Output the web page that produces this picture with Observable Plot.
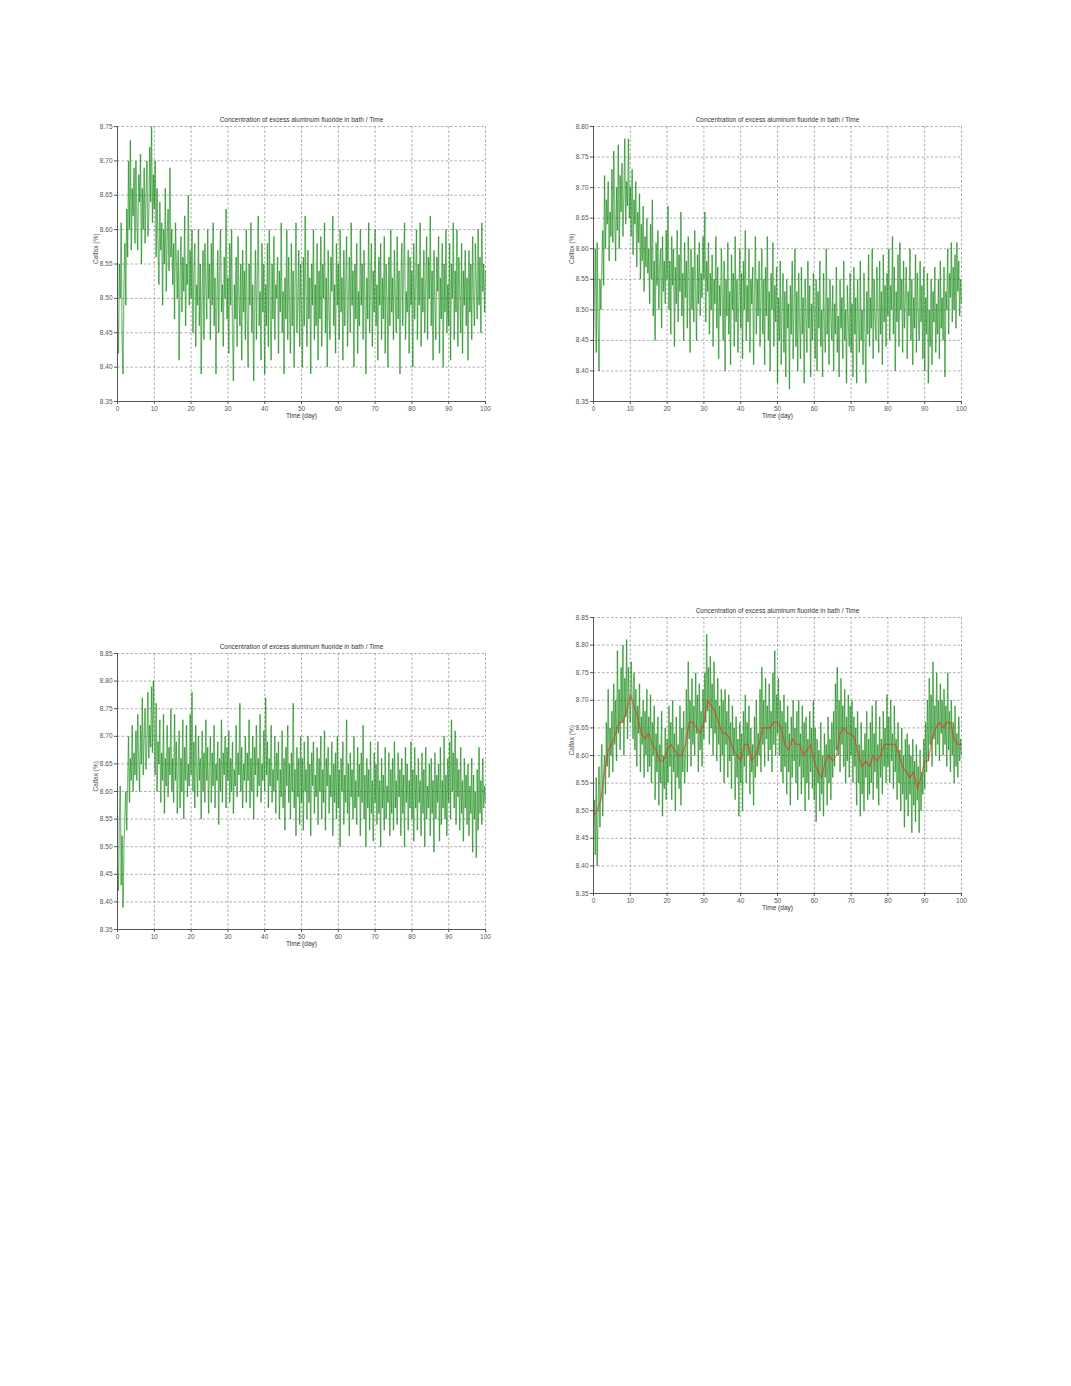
<!DOCTYPE html>
<html>
<head>
<meta charset="utf-8">
<script src="https://cdn.jsdelivr.net/npm/d3@7"></script>
<script src="https://cdn.jsdelivr.net/npm/@observablehq/plot@0.6"></script>
<style>
  html, body { margin: 0; padding: 0; background: #fff; }
  #page { position: relative; width: 1071px; height: 1386px; background: #fff; overflow: hidden; }
  .panel { position: absolute; }
  .panel svg { overflow: visible; }
</style>
</head>
<body>
<div id="page"></div>
<script>
const titleText = "Concentration of excess aluminum fluoride in bath / Time";
const xLabel = "Time (day)";
const yLabel = "Calfax (%)";
const xTicks = [0, 10, 20, 30, 40, 50, 60, 70, 80, 90, 100];

// Samples every 0.25 day, t = 0 .. 100 (each row = 5 days)
const series1 = [
  8.47, 8.42, 8.55, 8.50, 8.61, 8.44, 8.39, 8.52, 8.58, 8.49, 8.63, 8.56, 8.70, 8.60, 8.73, 8.57, 8.66, 8.62, 8.69, 8.58,
  8.70, 8.61, 8.57, 8.68, 8.64, 8.71, 8.55, 8.66, 8.60, 8.69, 8.58, 8.65, 8.70, 8.59, 8.62, 8.72, 8.64, 8.75, 8.61, 8.68,
  8.63, 8.70, 8.56, 8.66, 8.58, 8.52, 8.64, 8.57, 8.61, 8.49, 8.60, 8.55, 8.66, 8.51, 8.59, 8.63, 8.54, 8.69, 8.56, 8.60,
  8.52, 8.58, 8.47, 8.61, 8.55, 8.50, 8.57, 8.41, 8.53, 8.59, 8.48, 8.56, 8.51, 8.62, 8.46, 8.55, 8.52, 8.65, 8.49, 8.57,
  8.50, 8.60, 8.45, 8.54, 8.58, 8.43, 8.52, 8.49, 8.60, 8.46, 8.55, 8.39, 8.51, 8.57, 8.44, 8.58, 8.52, 8.47, 8.60, 8.50,
  8.55, 8.44, 8.58, 8.49, 8.61, 8.46, 8.53, 8.39, 8.50, 8.57, 8.45, 8.54, 8.60, 8.48, 8.52, 8.43, 8.56, 8.50, 8.63, 8.47,
  8.53, 8.42, 8.58, 8.49, 8.60, 8.45, 8.38, 8.52, 8.47, 8.56, 8.43, 8.59, 8.50, 8.46, 8.55, 8.41, 8.57, 8.48, 8.54, 8.44,
  8.60, 8.47, 8.40, 8.55, 8.49, 8.61, 8.45, 8.52, 8.38, 8.50, 8.57, 8.44, 8.53, 8.62, 8.46, 8.51, 8.41, 8.58, 8.48, 8.55,
  8.39, 8.52, 8.46, 8.58, 8.43, 8.60, 8.49, 8.41, 8.55, 8.47, 8.59, 8.44, 8.52, 8.50, 8.56, 8.42, 8.54, 8.48, 8.61, 8.45,
  8.51, 8.39, 8.53, 8.47, 8.60, 8.44, 8.56, 8.49, 8.42, 8.58, 8.46, 8.54, 8.40, 8.52, 8.61, 8.45, 8.50, 8.57, 8.43, 8.55,
  8.48, 8.40, 8.56, 8.46, 8.62, 8.50, 8.43, 8.57, 8.47, 8.53, 8.39, 8.55, 8.49, 8.60, 8.44, 8.52, 8.46, 8.58, 8.41, 8.54,
  8.47, 8.59, 8.43, 8.55, 8.50, 8.61, 8.45, 8.53, 8.40, 8.57, 8.48, 8.44, 8.56, 8.51, 8.62, 8.46, 8.52, 8.42, 8.58, 8.49,
  8.55, 8.44, 8.60, 8.48, 8.53, 8.41, 8.57, 8.46, 8.52, 8.59, 8.43, 8.50, 8.56, 8.45, 8.61, 8.49, 8.54, 8.40, 8.55, 8.47,
  8.58, 8.42, 8.51, 8.46, 8.60, 8.49, 8.55, 8.44, 8.57, 8.50, 8.39, 8.53, 8.47, 8.61, 8.45, 8.52, 8.58, 8.43, 8.54, 8.48,
  8.60, 8.46, 8.52, 8.41, 8.56, 8.49, 8.58, 8.44, 8.53, 8.47, 8.59, 8.42, 8.55, 8.50, 8.40, 8.56, 8.46, 8.60, 8.48, 8.53,
  8.44, 8.57, 8.50, 8.45, 8.59, 8.47, 8.54, 8.39, 8.52, 8.58, 8.46, 8.55, 8.61, 8.44, 8.51, 8.48, 8.57, 8.42, 8.56, 8.49,
  8.54, 8.40, 8.58, 8.47, 8.52, 8.60, 8.44, 8.55, 8.49, 8.61, 8.43, 8.53, 8.48, 8.57, 8.45, 8.52, 8.59, 8.44, 8.56, 8.50,
  8.62, 8.46, 8.54, 8.41, 8.57, 8.49, 8.44, 8.56, 8.51, 8.59, 8.42, 8.53, 8.47, 8.58, 8.40, 8.55, 8.48, 8.60, 8.45, 8.52,
  8.46, 8.58, 8.41, 8.55, 8.50, 8.61, 8.44, 8.54, 8.48, 8.60, 8.43, 8.56, 8.51, 8.45, 8.58, 8.42, 8.54, 8.49, 8.57, 8.46,
  8.53, 8.41, 8.57, 8.48, 8.55, 8.44, 8.59, 8.50, 8.46, 8.58, 8.52, 8.47, 8.60, 8.49, 8.56, 8.45, 8.61, 8.51, 8.55, 8.48,
  8.54
];
const series2 = [
  8.45, 8.52, 8.60, 8.43, 8.61, 8.48, 8.40, 8.55, 8.50, 8.57, 8.63, 8.54, 8.72, 8.60, 8.68, 8.64, 8.71, 8.58, 8.66, 8.62,
  8.73, 8.61, 8.76, 8.65, 8.58, 8.70, 8.63, 8.77, 8.60, 8.72, 8.66, 8.74, 8.62, 8.69, 8.78, 8.64, 8.71, 8.67, 8.78, 8.65,
  8.70, 8.62, 8.73, 8.59, 8.68, 8.64, 8.71, 8.57, 8.66, 8.61, 8.69, 8.55, 8.64, 8.58, 8.67, 8.53, 8.62, 8.57, 8.65, 8.56,
  8.60, 8.51, 8.64, 8.55, 8.68, 8.49, 8.58, 8.45, 8.61, 8.54, 8.63, 8.50, 8.57, 8.60, 8.47, 8.62, 8.53, 8.58, 8.51, 8.63,
  8.55, 8.67, 8.50, 8.58, 8.46, 8.62, 8.54, 8.60, 8.44, 8.57, 8.51, 8.63, 8.48, 8.59, 8.53, 8.66, 8.49, 8.56, 8.45, 8.61,
  8.52, 8.58, 8.47, 8.62, 8.55, 8.43, 8.60, 8.50, 8.57, 8.48, 8.63, 8.53, 8.45, 8.59, 8.51, 8.61, 8.49, 8.56, 8.52, 8.62,
  8.55, 8.66, 8.48, 8.58, 8.53, 8.61, 8.46, 8.56, 8.50, 8.59, 8.44, 8.55, 8.51, 8.62, 8.47, 8.57, 8.42, 8.54, 8.49, 8.60,
  8.52, 8.45, 8.58, 8.40, 8.55, 8.49, 8.61, 8.46, 8.53, 8.41, 8.59, 8.50, 8.56, 8.44, 8.62, 8.48, 8.55, 8.43, 8.52, 8.60,
  8.47, 8.56, 8.42, 8.58, 8.50, 8.63, 8.45, 8.54, 8.48, 8.60, 8.43, 8.55, 8.51, 8.57, 8.41, 8.53, 8.62, 8.46, 8.55, 8.49,
  8.58, 8.44, 8.52, 8.60, 8.46, 8.55, 8.41, 8.57, 8.49, 8.62, 8.45, 8.53, 8.40, 8.56, 8.50, 8.61, 8.44, 8.54, 8.48, 8.57,
  8.38, 8.52, 8.45, 8.58, 8.41, 8.50, 8.56, 8.43, 8.53, 8.39, 8.55, 8.47, 8.51, 8.37, 8.54, 8.46, 8.58, 8.42, 8.50, 8.60,
  8.44, 8.53, 8.40, 8.56, 8.48, 8.42, 8.57, 8.46, 8.52, 8.38, 8.55, 8.49, 8.43, 8.58, 8.47, 8.54, 8.39, 8.51, 8.45, 8.56,
  8.48, 8.42, 8.55, 8.40, 8.53, 8.47, 8.58, 8.44, 8.50, 8.39, 8.56, 8.48, 8.43, 8.60, 8.46, 8.52, 8.41, 8.55, 8.49, 8.45,
  8.54, 8.40, 8.51, 8.46, 8.57, 8.43, 8.49, 8.39, 8.55, 8.47, 8.52, 8.42, 8.58, 8.45, 8.50, 8.38, 8.54, 8.48, 8.44, 8.56,
  8.43, 8.51, 8.39, 8.57, 8.46, 8.52, 8.38, 8.55, 8.48, 8.43, 8.58, 8.45, 8.50, 8.41, 8.56, 8.47, 8.38, 8.53, 8.46, 8.59,
  8.44, 8.52, 8.47, 8.60, 8.42, 8.55, 8.49, 8.45, 8.57, 8.50, 8.43, 8.58, 8.46, 8.53, 8.41, 8.59, 8.48, 8.54, 8.44, 8.56,
  8.49, 8.60, 8.45, 8.54, 8.50, 8.62, 8.46, 8.57, 8.40, 8.53, 8.48, 8.59, 8.44, 8.61, 8.50, 8.55, 8.43, 8.58, 8.47, 8.52,
  8.57, 8.42, 8.53, 8.49, 8.60, 8.45, 8.55, 8.41, 8.52, 8.47, 8.59, 8.43, 8.56, 8.50, 8.45, 8.58, 8.48, 8.54, 8.42, 8.57,
  8.40, 8.52, 8.46, 8.56, 8.38, 8.50, 8.44, 8.55, 8.41, 8.53, 8.48, 8.57, 8.43, 8.51, 8.46, 8.55, 8.42, 8.58, 8.47, 8.52,
  8.45, 8.57, 8.39, 8.53, 8.50, 8.60, 8.46, 8.56, 8.52, 8.61, 8.48, 8.57, 8.50, 8.59, 8.47, 8.61, 8.53, 8.58, 8.49, 8.55,
  8.51
];
const series3 = [
  8.46, 8.42, 8.55, 8.61, 8.43, 8.52, 8.39, 8.50, 8.56, 8.60, 8.53, 8.62, 8.70, 8.58, 8.66, 8.62, 8.72, 8.60, 8.67, 8.63,
  8.71, 8.62, 8.74, 8.66, 8.60, 8.72, 8.65, 8.77, 8.63, 8.70, 8.75, 8.64, 8.69, 8.78, 8.66, 8.72, 8.68, 8.79, 8.67, 8.80,
  8.70, 8.63, 8.76, 8.60, 8.69, 8.65, 8.73, 8.58, 8.67, 8.62, 8.74, 8.56, 8.66, 8.61, 8.72, 8.59, 8.68, 8.63, 8.75, 8.60,
  8.66, 8.58, 8.74, 8.62, 8.69, 8.56, 8.64, 8.71, 8.57, 8.66, 8.60, 8.73, 8.55, 8.68, 8.62, 8.72, 8.59, 8.65, 8.61, 8.74,
  8.63, 8.78, 8.60, 8.69, 8.57, 8.72, 8.64, 8.59, 8.70, 8.62, 8.66, 8.55, 8.71, 8.60, 8.67, 8.58, 8.73, 8.62, 8.68, 8.56,
  8.64, 8.70, 8.58, 8.67, 8.61, 8.72, 8.57, 8.65, 8.62, 8.69, 8.54, 8.66, 8.60, 8.73, 8.58, 8.67, 8.63, 8.70, 8.57, 8.68,
  8.62, 8.71, 8.58, 8.66, 8.60, 8.69, 8.56, 8.64, 8.61, 8.72, 8.59, 8.67, 8.63, 8.76, 8.60, 8.68, 8.57, 8.65, 8.62, 8.70,
  8.58, 8.67, 8.62, 8.73, 8.57, 8.66, 8.60, 8.70, 8.55, 8.68, 8.63, 8.72, 8.59, 8.66, 8.61, 8.74, 8.58, 8.65, 8.62, 8.71,
  8.60, 8.77, 8.63, 8.69, 8.57, 8.66, 8.61, 8.72, 8.58, 8.64, 8.60, 8.70, 8.56, 8.67, 8.62, 8.69, 8.55, 8.64, 8.59, 8.71,
  8.57, 8.66, 8.53, 8.68, 8.61, 8.72, 8.58, 8.65, 8.55, 8.67, 8.60, 8.76, 8.57, 8.64, 8.52, 8.68, 8.59, 8.66, 8.54, 8.70,
  8.58, 8.66, 8.53, 8.69, 8.60, 8.64, 8.55, 8.70, 8.58, 8.65, 8.52, 8.67, 8.61, 8.69, 8.56, 8.63, 8.59, 8.68, 8.54, 8.66,
  8.60, 8.70, 8.55, 8.64, 8.58, 8.71, 8.53, 8.66, 8.61, 8.68, 8.56, 8.63, 8.59, 8.69, 8.52, 8.65, 8.58, 8.67, 8.55, 8.70,
  8.57, 8.64, 8.50, 8.66, 8.60, 8.69, 8.54, 8.63, 8.58, 8.73, 8.56, 8.65, 8.52, 8.67, 8.59, 8.64, 8.55, 8.70, 8.57, 8.62,
  8.54, 8.68, 8.59, 8.65, 8.52, 8.67, 8.58, 8.72, 8.55, 8.63, 8.50, 8.66, 8.57, 8.64, 8.53, 8.69, 8.56, 8.62, 8.51, 8.67,
  8.58, 8.65, 8.54, 8.69, 8.56, 8.62, 8.50, 8.66, 8.57, 8.63, 8.53, 8.68, 8.55, 8.61, 8.58, 8.67, 8.52, 8.64, 8.56, 8.66,
  8.53, 8.69, 8.57, 8.62, 8.54, 8.67, 8.59, 8.64, 8.52, 8.66, 8.56, 8.63, 8.50, 8.68, 8.58, 8.65, 8.53, 8.62, 8.57, 8.69,
  8.55, 8.64, 8.51, 8.68, 8.57, 8.63, 8.53, 8.66, 8.58, 8.62, 8.52, 8.67, 8.56, 8.64, 8.50, 8.68, 8.55, 8.61, 8.57, 8.65,
  8.52, 8.66, 8.56, 8.62, 8.49, 8.67, 8.55, 8.63, 8.58, 8.65, 8.51, 8.68, 8.54, 8.62, 8.57, 8.70, 8.55, 8.63, 8.52, 8.66,
  8.58, 8.69, 8.55, 8.73, 8.60, 8.67, 8.57, 8.71, 8.54, 8.66, 8.59, 8.64, 8.53, 8.68, 8.56, 8.62, 8.51, 8.66, 8.57, 8.63,
  8.54, 8.65, 8.52, 8.61, 8.56, 8.66, 8.49, 8.63, 8.55, 8.60, 8.48, 8.64, 8.53, 8.68, 8.56, 8.62, 8.54, 8.66, 8.57, 8.61,
  8.58
];
const series4 = [
  8.45, 8.52, 8.42, 8.56, 8.40, 8.50, 8.58, 8.47, 8.55, 8.62, 8.49, 8.57, 8.60, 8.53, 8.66, 8.58, 8.72, 8.56, 8.65, 8.60,
  8.68, 8.57, 8.73, 8.62, 8.70, 8.59, 8.79, 8.64, 8.72, 8.61, 8.76, 8.66, 8.80, 8.60, 8.74, 8.67, 8.81, 8.63, 8.76, 8.69,
  8.66, 8.77, 8.70, 8.63, 8.75, 8.61, 8.72, 8.58, 8.69, 8.64, 8.73, 8.57, 8.67, 8.62, 8.70, 8.56, 8.68, 8.60, 8.72, 8.57,
  8.67, 8.58, 8.71, 8.55, 8.66, 8.60, 8.69, 8.52, 8.64, 8.57, 8.67, 8.51, 8.62, 8.55, 8.68, 8.49, 8.60, 8.54, 8.65, 8.52,
  8.63, 8.55, 8.69, 8.58, 8.66, 8.52, 8.70, 8.57, 8.64, 8.50, 8.67, 8.56, 8.62, 8.54, 8.69, 8.51, 8.65, 8.57, 8.68, 8.55,
  8.60, 8.72, 8.57, 8.77, 8.63, 8.70, 8.58, 8.74, 8.62, 8.69, 8.60, 8.75, 8.64, 8.71, 8.57, 8.73, 8.61, 8.68, 8.58, 8.72,
  8.63, 8.75, 8.66, 8.82, 8.68, 8.76, 8.62, 8.78, 8.65, 8.73, 8.60, 8.77, 8.64, 8.70, 8.59, 8.74, 8.62, 8.69, 8.57, 8.72,
  8.60, 8.70, 8.55, 8.72, 8.62, 8.68, 8.56, 8.71, 8.59, 8.66, 8.54, 8.69, 8.60, 8.65, 8.52, 8.67, 8.56, 8.63, 8.49, 8.66,
  8.55, 8.64, 8.50, 8.68, 8.58, 8.71, 8.55, 8.66, 8.60, 8.69, 8.53, 8.65, 8.57, 8.62, 8.51, 8.67, 8.56, 8.70, 8.58, 8.64,
  8.60, 8.72, 8.57, 8.76, 8.62, 8.70, 8.58, 8.74, 8.63, 8.69, 8.59, 8.73, 8.61, 8.68, 8.57, 8.75, 8.62, 8.79, 8.60, 8.71,
  8.64, 8.74, 8.60, 8.70, 8.57, 8.68, 8.55, 8.71, 8.58, 8.66, 8.53, 8.69, 8.57, 8.64, 8.51, 8.67, 8.56, 8.70, 8.59, 8.65,
  8.55, 8.68, 8.52, 8.70, 8.58, 8.64, 8.53, 8.69, 8.56, 8.66, 8.50, 8.67, 8.55, 8.63, 8.52, 8.68, 8.57, 8.65, 8.54, 8.70,
  8.52, 8.65, 8.48, 8.63, 8.55, 8.61, 8.50, 8.66, 8.53, 8.60, 8.49, 8.64, 8.56, 8.62, 8.51, 8.67, 8.55, 8.63, 8.52, 8.66,
  8.56, 8.68, 8.58, 8.73, 8.61, 8.76, 8.60, 8.70, 8.57, 8.74, 8.62, 8.69, 8.58, 8.72, 8.55, 8.67, 8.59, 8.71, 8.56, 8.69,
  8.60, 8.70, 8.55, 8.67, 8.58, 8.65, 8.51, 8.68, 8.55, 8.62, 8.49, 8.66, 8.53, 8.61, 8.50, 8.64, 8.56, 8.68, 8.52, 8.63,
  8.53, 8.66, 8.55, 8.69, 8.52, 8.64, 8.57, 8.70, 8.54, 8.62, 8.51, 8.67, 8.56, 8.63, 8.53, 8.68, 8.58, 8.65, 8.55, 8.71,
  8.58, 8.67, 8.55, 8.70, 8.59, 8.64, 8.54, 8.69, 8.57, 8.63, 8.52, 8.66, 8.55, 8.61, 8.50, 8.65, 8.53, 8.60, 8.47, 8.63,
  8.52, 8.64, 8.49, 8.62, 8.53, 8.60, 8.46, 8.63, 8.51, 8.59, 8.48, 8.62, 8.52, 8.58, 8.46, 8.61, 8.50, 8.57, 8.53, 8.63,
  8.54, 8.66, 8.57, 8.70, 8.59, 8.74, 8.62, 8.71, 8.58, 8.77, 8.63, 8.69, 8.60, 8.75, 8.62, 8.70, 8.59, 8.73, 8.64, 8.70,
  8.60, 8.72, 8.62, 8.69, 8.58, 8.75, 8.61, 8.68, 8.57, 8.70, 8.60, 8.66, 8.55, 8.69, 8.58, 8.64, 8.56, 8.67, 8.59, 8.63,
  8.60
];
// Smoothed (red) trend for panel 4, one value per day, t = 0 .. 100
const trend4 = [
  8.49, 8.50, 8.52, 8.57, 8.61, 8.62, 8.64, 8.66, 8.66, 8.68, 8.71,
  8.69, 8.67, 8.64, 8.63, 8.64, 8.62, 8.61, 8.59, 8.59, 8.61,
  8.62, 8.61, 8.60, 8.60, 8.62, 8.66, 8.66, 8.65, 8.64, 8.66,
  8.70, 8.69, 8.68, 8.66, 8.64, 8.64, 8.63, 8.61, 8.60, 8.59,
  8.62, 8.62, 8.59, 8.60, 8.62, 8.65, 8.65, 8.65, 8.66, 8.66,
  8.65, 8.62, 8.61, 8.63, 8.62, 8.62, 8.60, 8.61, 8.62, 8.59,
  8.57, 8.56, 8.59, 8.60, 8.59, 8.60, 8.64, 8.65, 8.64, 8.64,
  8.63, 8.60, 8.58, 8.59, 8.58, 8.60, 8.59, 8.60, 8.62, 8.62,
  8.62, 8.62, 8.60, 8.58, 8.57, 8.56, 8.57, 8.54, 8.56, 8.59,
  8.59, 8.63, 8.65, 8.66, 8.65, 8.66, 8.66, 8.63, 8.62, 8.62
];

const panels = [
  {values: series1, yDomain: [8.35, 8.75], left: 60, top: 100, height: 330},
  {values: series2, yDomain: [8.35, 8.80], left: 536, top: 100, height: 330},
  {values: series3, yDomain: [8.35, 8.85], left: 60, top: 627, height: 331},
  {values: series4, yDomain: [8.35, 8.85], left: 536, top: 591, height: 331, trend: trend4}
];

const FONT = "'Liberation Sans', Arial, sans-serif";
const page = document.getElementById("page");

for (const p of panels) {
  const pts = p.values.map((v, i) => ({t: i * 0.25, v}));
  const segs = d3.pairs(pts).map(([a, b]) => ({x1: a.t, y1: a.v, x2: b.t, y2: b.v}));
  const yTicks = d3.range(Math.round(p.yDomain[0] * 100), Math.round(p.yDomain[1] * 100) + 1, 5).map(d => d / 100);
  const marks = [
    Plot.gridY(yTicks, {stroke: "#999", strokeOpacity: 1, strokeDasharray: "2.5,2", strokeWidth: 0.8}),
    Plot.gridX(xTicks, {stroke: "#999", strokeOpacity: 1, strokeDasharray: "2.5,2", strokeWidth: 0.8}),
    Plot.axisY(yTicks, {tickFormat: ".2f", tickSize: 3, tickPadding: 2, fontSize: 6.5, color: "#555", label: null, stroke: "#555"}),
    Plot.axisX(xTicks, {tickFormat: d => String(d), tickSize: 3, tickPadding: 2, fontSize: 6.5, color: "#555", label: null, stroke: "#555"}),
    Plot.link(segs, {x1: "x1", y1: "y1", x2: "x2", y2: "y2", stroke: "#008000", strokeOpacity: 0.5, strokeWidth: 1.3})
  ];
  if (p.trend) {
    marks.push(Plot.line(p.trend.map((v, i) => ({t: i, v})), {x: "t", y: "v", stroke: "#ff1a1a", strokeWidth: 1.2, strokeOpacity: 0.6}));
  }
  marks.push(
    Plot.ruleX([0], {stroke: "#555", strokeWidth: 1}),
    Plot.ruleY([p.yDomain[0]], {stroke: "#555", strokeWidth: 1}),
    Plot.text([titleText], {frameAnchor: "top", lineAnchor: "bottom", dy: -5, fontSize: 6.5, fill: "#333"}),
    Plot.text([xLabel], {frameAnchor: "bottom", lineAnchor: "top", dy: 12, fontSize: 6.5, fill: "#333"}),
    Plot.text([yLabel], {frameAnchor: "left", rotate: -90, dx: -22, fontSize: 6.5, fill: "#555"})
  );
  const chart = Plot.plot({
    width: 460,
    height: p.height,
    marginLeft: 57,
    marginRight: 35,
    marginTop: 26,
    marginBottom: 29,
    style: {fontFamily: FONT, background: "transparent", overflow: "visible"},
    x: {domain: [0, 100]},
    y: {domain: p.yDomain},
    marks
  });
  const wrap = document.createElement("div");
  wrap.className = "panel";
  wrap.style.left = p.left + "px";
  wrap.style.top = p.top + "px";
  wrap.appendChild(chart);
  page.appendChild(wrap);
}
</script>
</body>
</html>
